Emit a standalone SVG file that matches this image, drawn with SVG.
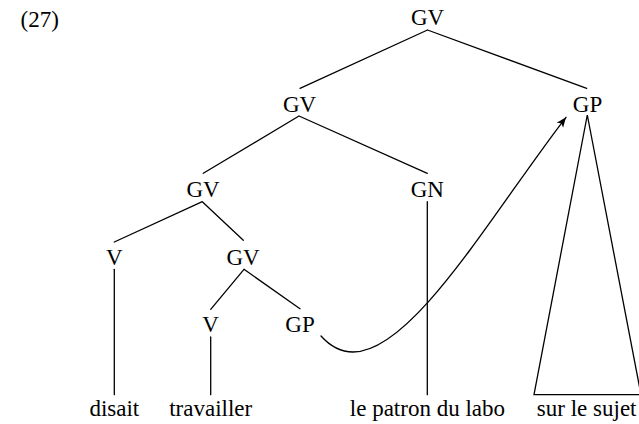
<svg xmlns="http://www.w3.org/2000/svg" width="639" height="424" viewBox="0 0 639 424">
<style>
.t{font-size:23px;fill:#000;text-anchor:middle}
.e{stroke:#000;stroke-width:1.3;fill:none;stroke-linecap:round}
</style>
<defs>
<marker id="arr" markerWidth="12" markerHeight="10" refX="10" refY="5" orient="auto" markerUnits="userSpaceOnUse">
<path d="M0,1 L10,5 L0,9 L2.5,5 Z" fill="#000"/>
</marker>
</defs>
<rect width="639" height="424" fill="#fff"/>
<g font-family="'Liberation Serif', 'DejaVu Serif', serif">
<text class="t" x="20.5" y="26.7" text-anchor="start" style="text-anchor:start">(27)</text>
<g id="n-root"><text class="t" x="427.5" y="25">GV</text></g>
<g id="n-gv2"><text class="t" x="299.5" y="111.5">GV</text></g>
<g id="n-gp"><text class="t" x="587.5" y="111.5">GP</text></g>
<g id="n-gv3"><text class="t" x="203" y="196.5">GV</text></g>
<g id="n-gn"><text class="t" x="427.3" y="196.5">GN</text></g>
<g id="n-v1"><text class="t" x="114.3" y="265">V</text></g>
<g id="n-gv4"><text class="t" x="243" y="265">GV</text></g>
<g id="n-v2"><text class="t" x="210.5" y="332">V</text></g>
<g id="n-gp2"><text class="t" x="300" y="332">GP</text></g>
<g id="w-disait"><text class="t" x="114.3" y="416">disait</text></g>
<g id="w-travailler"><text class="t" x="210.7" y="416">travailler</text></g>
<g id="w-patron"><text class="t" x="427.4" y="416">le patron du labo</text></g>
<g id="w-sujet"><text class="t" x="586.7" y="416">sur le sujet</text></g>
</g>
<g id="connectors" class="e">
<path d="M427.5,30 L300,88.3 M427.5,30 L586.7,88.3"/>
<path d="M299,116 L203.3,173.3 M299,116 L427.3,173.3"/>
<path d="M202.3,201.7 L114.3,242 M202.3,201.7 L243.3,240.3"/>
<path d="M114.3,269.3 L114.3,394.7"/>
<path d="M244,269.3 L210.7,309.3 M244,269.3 L300,308.7"/>
<path d="M210.7,337 L210.7,394.7"/>
<path d="M427.3,201.7 L427.3,394.7"/>
<path d="M587.3,115 L534,394.7 L641,394.7 Z" stroke-linejoin="miter"/>
<path d="M321,336 C330,346 340,352 353,352 C413,352 493,212 566,117.3" marker-end="url(#arr)"/>
</g>
</svg>
